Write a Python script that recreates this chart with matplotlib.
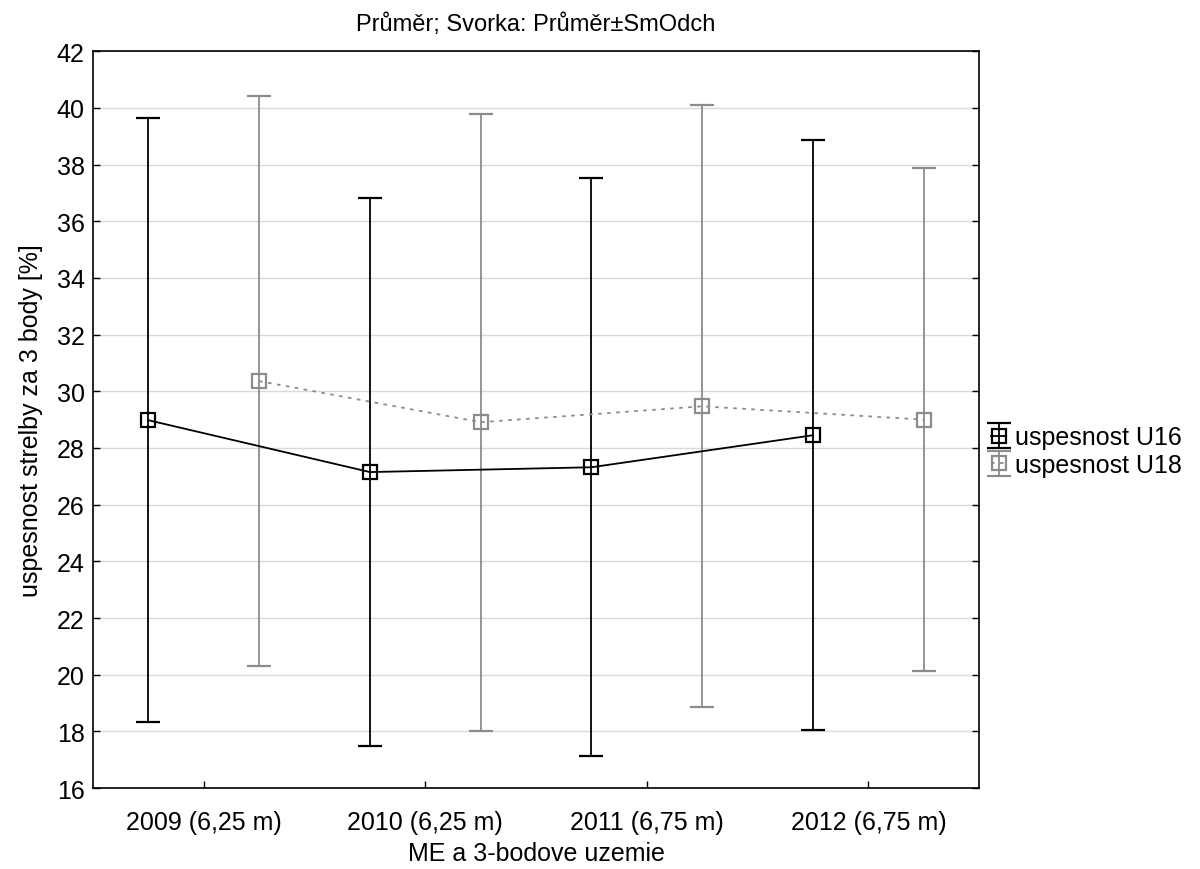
import matplotlib
matplotlib.use("Agg")
import matplotlib.pyplot as plt
import numpy as np

plt.rcParams['font.family'] = ['Liberation Sans', 'DejaVu Sans']

categories = ["2009 (6,25 m)", "2010 (6,25 m)", "2011 (6,75 m)", "2012 (6,75 m)"]
u16_mean = [28.98, 27.15, 27.32, 28.45]
u16_sd = [10.65, 9.66, 10.19, 10.40]
u18_mean = [30.36, 28.91, 29.47, 29.00]
u18_sd = [10.05, 10.88, 10.62, 8.88]

x = np.arange(len(categories))
off = 0.25

fig = plt.figure(figsize=(12, 8.7), dpi=100)
ax = fig.add_axes([0.0775, 0.093, 0.7385, 0.847])

ax.errorbar(x - off, u16_mean, yerr=u16_sd, color="black", ecolor="black",
            linestyle="-", linewidth=1.3, elinewidth=1.3, capsize=8.3, capthick=1.6,
            marker="s", markersize=10, markerfacecolor="none", markeredgewidth=1.6,
            label="uspesnost U16")
ax.errorbar(x + off, u18_mean, yerr=u18_sd, color="#8c8c8c", ecolor="#8c8c8c",
            linestyle=(0, (2, 3)), linewidth=1.3, elinewidth=1.3, capsize=8.3, capthick=1.6,
            marker="s", markersize=10, markerfacecolor="none", markeredgewidth=1.6,
            label="uspesnost U18")

ax.set_xlim(-0.5, 3.5)
ax.set_ylim(16, 42)
ax.set_yticks(np.arange(16, 43, 2))
ax.set_xticks(x)
ax.set_xticklabels(categories)
ax.yaxis.grid(True, color="#d9d9d9", linewidth=1)
ax.set_axisbelow(True)
ax.tick_params(direction="in", length=5, width=1, labelsize=18, right=True, top=False)
ax.tick_params(axis="x", pad=16)
ax.tick_params(axis="y", pad=6)
for s in ax.spines.values():
    s.set_linewidth(1.2)

ax.set_xlabel("ME a 3-bodove uzemie", fontsize=18, labelpad=5)
ax.set_ylabel("uspesnost strelby za 3 body [%]", fontsize=18, labelpad=10)
ax.set_title("Průměr; Svorka: Průměr±SmOdch", fontsize=17, pad=15)

ax.legend(loc="center left", bbox_to_anchor=(1.008, 0.457), frameon=False, fontsize=18,
          handlelength=0.6, handletextpad=0.35, borderaxespad=0.0, borderpad=0.2,
          labelspacing=0.15)

fig.savefig("out.png", dpi=100)
